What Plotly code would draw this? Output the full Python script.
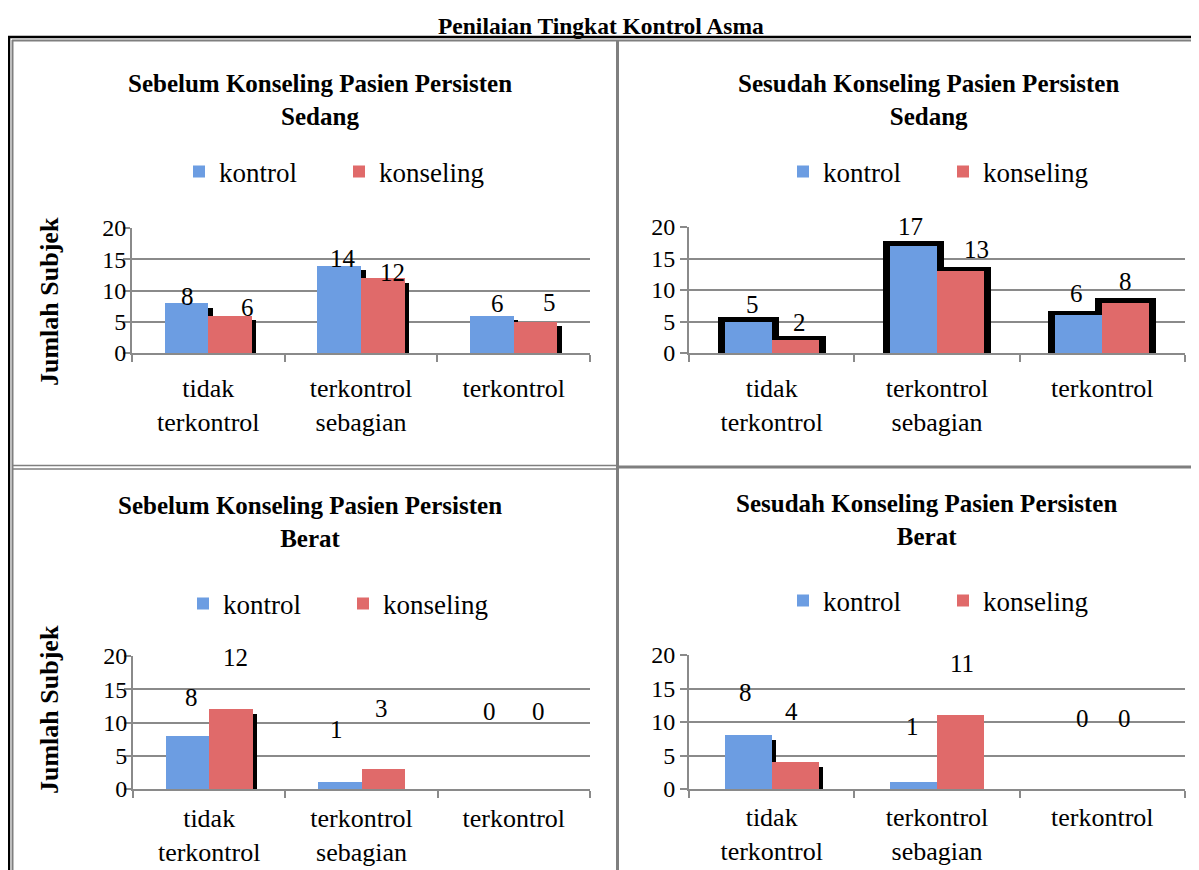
import plotly.graph_objects as go

# ---------------- data ----------------
categories = ["tidak<br>terkontrol", "terkontrol<br>sebagian", "terkontrol"]
series_names = ["kontrol", "konseling"]

sebelum_sedang_kontrol = [8, 14, 6]
sebelum_sedang_konseling = [6, 12, 5]
sesudah_sedang_kontrol = [5, 17, 6]
sesudah_sedang_konseling = [2, 13, 8]
sebelum_berat_kontrol = [8, 1, 0]
sebelum_berat_konseling = [12, 3, 0]
sesudah_berat_kontrol = [8, 1, 0]
sesudah_berat_konseling = [4, 11, 0]

y_ticks = [0, 5, 10, 15, 20]

main_title = "Penilaian Tingkat Kontrol Asma"
y_title = "Jumlah Subjek"
panel_titles = [
    "Sebelum Konseling Pasien Persisten<br>Sedang",
    "Sesudah Konseling Pasien Persisten<br>Sedang",
    "Sebelum Konseling Pasien Persisten<br>Berat",
    "Sesudah Konseling Pasien Persisten<br>Berat",
]

# ---------------- style / layout ----------------
W, H = 1199, 870
OFF = 8  # page body margin
FONT = "Liberation Serif, DejaVu Serif, serif"
GRID = "#8a8a8a"
BLUE = "#6c9de2"
RED = "#e06a6a"


def px(x):
    return (x - OFF) / W


def py(y):
    return 1 - (y - OFF) / H


BAR_W = 0.285
OFFSETS = [-BAR_W, 0.0]
COLORS = [BLUE, RED]

panels = [
    dict(data=[sebelum_sedang_kontrol, sebelum_sedang_konseling],
         xdom=(132, 590), ydom=(228, 353), title=(320, 100), legend=(179, 172),
         effect="drop", flags=[[1, 1, 1], [1, 1, 1]],
         lift=[[7, 7, 12], [8, 6, 19]], xsh=[[1, 4, 6], [17, 10, 14]],
         ystand=-8, xstand=11),
    dict(data=[sesudah_sedang_kontrol, sesudah_sedang_konseling],
         xdom=(689, 1185), ydom=(227, 353), title=(928, 100), legend=(783, 172),
         effect="outline", flags=[[1, 1, 1], [1, 1, 1]],
         lift=[[17, 19, 22], [18, 22, 21]], xsh=[[4, -3, -2], [4, 16, 0]],
         ystand=0, xstand=11),
    dict(data=[sebelum_berat_kontrol, sebelum_berat_konseling],
         xdom=(133, 590), ydom=(656, 789), title=(310, 522), legend=(183, 604),
         effect="drop", flags=[[1, 0, 0], [1, 0, 0]],
         lift=[[38, 53, 78], [52, 61, 78]], xsh=[[4, -3, -3], [5, -2, 3]],
         ystand=-8, xstand=5),
    dict(data=[sesudah_berat_kontrol, sesudah_berat_konseling],
         xdom=(689, 1185), ydom=(655, 789), title=(927, 520), legend=(783, 601),
         effect="drop", flags=[[1, 0, 0], [1, 0, 0]],
         lift=[[43, 56, 71], [51, 52, 71]], xsh=[[-3, -1, 4], [-4, 1, -1]],
         ystand=0, xstand=4),
]

fig = go.Figure()
annotations = []

for k, p in enumerate(panels, start=1):
    xa = "x" if k == 1 else f"x{k}"
    ya = "y" if k == 1 else f"y{k}"
    lg = "legend" if k == 1 else f"legend{k}"
    x0, x1 = p["xdom"]
    ytop, ybot = p["ydom"]
    cat_px = (x1 - x0) / len(categories)
    unit_px = (ybot - ytop) / (y_ticks[-1] - y_ticks[0])

    # shadow / outline layers (drawn first, behind bars)
    for s, vals in enumerate(p["data"]):
        if p["effect"] == "drop":
            dx = 4.5 / cat_px
            dy = 4.5 / unit_px
            sh = [max(v - dy, 0) if f else 0 for v, f in zip(vals, p["flags"][s])]
            fig.add_trace(go.Bar(x=categories, y=sh, xaxis=xa, yaxis=ya,
                                 offset=OFFSETS[s] + dx, width=BAR_W,
                                 marker=dict(color="black", line=dict(width=0)),
                                 showlegend=False, hoverinfo="skip"))
        else:
            dx = 7 / cat_px
            dy = 4.5 / unit_px
            sh = [v + dy for v in vals]
            fig.add_trace(go.Bar(x=categories, y=sh, xaxis=xa, yaxis=ya,
                                 offset=OFFSETS[s] - dx, width=BAR_W + 2 * dx,
                                 marker=dict(color="black", line=dict(width=0)),
                                 showlegend=False, hoverinfo="skip"))

    for s, vals in enumerate(p["data"]):
        fig.add_trace(go.Bar(x=categories, y=vals, xaxis=xa, yaxis=ya,
                             name=series_names[s], offset=OFFSETS[s], width=BAR_W,
                             marker=dict(color=COLORS[s], line=dict(width=0)),
                             legend=lg, showlegend=True))
        for i, v in enumerate(vals):
            annotations.append(dict(
                x=i + OFFSETS[s] + BAR_W / 2, y=v, xref=xa, yref=ya,
                text=str(v), showarrow=False, yanchor="middle",
                yshift=p["lift"][s][i], xshift=p["xsh"][s][i],
                font=dict(family=FONT, size=25, color="black")))

    xkey = "xaxis" if k == 1 else f"xaxis{k}"
    ykey = "yaxis" if k == 1 else f"yaxis{k}"
    fig.update_layout(**{
        xkey: dict(domain=[px(x0), px(x1)], anchor=ya, type="category",
                   range=[-0.5, len(categories) - 0.5], automargin=False,
                   showline=True, linecolor=GRID, linewidth=2,
                   ticks="outside", tickson="boundaries", ticklen=7,
                   tickwidth=2, tickcolor=GRID, showgrid=False,
                   tickfont=dict(family=FONT, size=26, color="black"),
                   ticklabelstandoff=p["xstand"], fixedrange=True),
        ykey: dict(domain=[py(ybot), py(ytop)], anchor=xa, automargin=False,
                   range=[y_ticks[0], y_ticks[-1]], tickvals=y_ticks,
                   showline=True, linecolor=GRID, linewidth=2,
                   ticks="outside", ticklen=7, tickwidth=2, tickcolor=GRID,
                   showgrid=True, gridcolor=GRID, gridwidth=2,
                   zeroline=False,
                   tickfont=dict(family=FONT, size=24, color="black"),
                   ticklabelstandoff=p["ystand"], fixedrange=True),
        lg: dict(orientation="h", x=px(p["legend"][0]), xanchor="left",
                 y=py(p["legend"][1]), yanchor="middle",
                 font=dict(family=FONT, size=27, color="black"),
                 entrywidth=115, entrywidthmode="pixels", itemwidth=30,
                 bgcolor="rgba(0,0,0,0)", traceorder="normal"),
    })

    annotations.append(dict(
        x=px(p["title"][0]), y=py(p["title"][1]), xref="paper", yref="paper",
        text=f"<b>{panel_titles[k - 1]}</b>", showarrow=False,
        xanchor="center", yanchor="middle",
        font=dict(family=FONT, size=25, color="black")))

annotations.append(dict(
    x=px(601), y=py(26), xref="paper", yref="paper", text=f"<b>{main_title}</b>",
    showarrow=False, xanchor="center", yanchor="middle",
    font=dict(family=FONT, size=23.5, color="black")))
for yc in (302, 710):
    annotations.append(dict(
        x=px(49), y=py(yc), xref="paper", yref="paper", text=f"<b>{y_title}</b>",
        showarrow=False, textangle=-90, xanchor="center", yanchor="middle",
        font=dict(family=FONT, size=26, color="black")))


# table borders
def hline(y, xa_, xb_, color, w):
    return dict(type="line", xref="paper", yref="paper", x0=px(xa_), x1=px(xb_),
                y0=py(y), y1=py(y), line=dict(color=color, width=w))


def vline(x, ya_, yb_, color, w):
    return dict(type="line", xref="paper", yref="paper", x0=px(x), x1=px(x),
                y0=py(ya_), y1=py(yb_), line=dict(color=color, width=w))


shapes = [
    hline(37, 8, 1207, "black", 2.5),
    hline(40.5, 12, 1207, "#7f7f7f", 2),
    vline(9, 36, 878, "black", 2.5),
    vline(12.5, 40, 878, "#7f7f7f", 2),
    vline(617.5, 40, 878, "#7f7f7f", 3),
    hline(465.5, 12, 617, "#7f7f7f", 1.5),
    hline(469, 12, 617, "#7f7f7f", 1.5),
    hline(467, 617, 1207, "#7f7f7f", 3),
]

fig.update_layout(
    width=W, height=H, margin=dict(l=0, r=0, t=0, b=0, autoexpand=False),
    paper_bgcolor="white", plot_bgcolor="white",
    barmode="overlay", bargap=0,
    font=dict(family=FONT, color="black"),
    annotations=annotations, shapes=shapes,
)

fig.write_html("out.html")
